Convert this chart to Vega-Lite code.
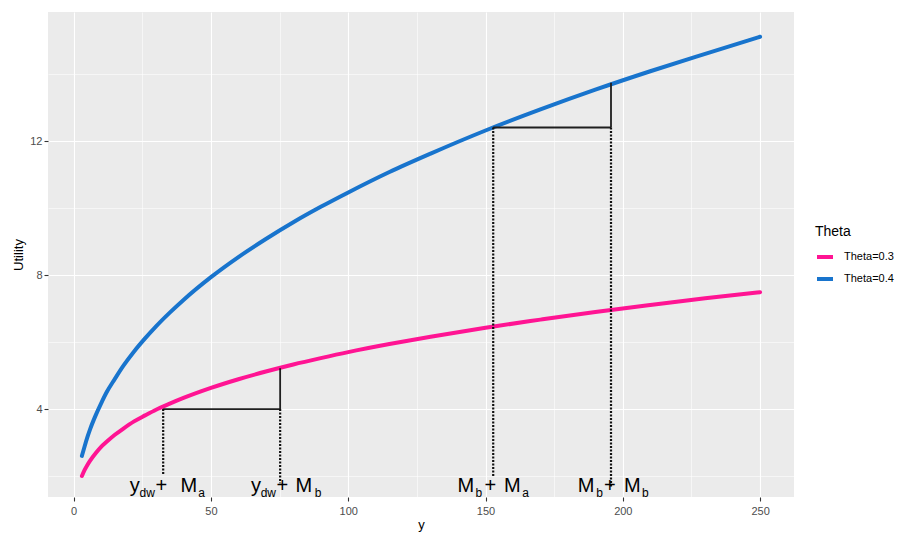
{
  "$schema": "https://vega.github.io/schema/vega-lite/v6.json",
  "autosize": {"type": "none"},
  "padding": {"left": 48, "top": 12, "right": 103, "bottom": 37},
  "width": 746,
  "height": 485,
  "config": {
    "view": {"fill": "#EBEBEB", "stroke": null},
    "font": "Liberation Sans"
  },
  "datasets": {
    "curves": [
      {"y": 3, "utility": 2.00, "theta": "Theta=0.3"},
      {"y": 4, "utility": 2.18, "theta": "Theta=0.3"},
      {"y": 5, "utility": 2.33, "theta": "Theta=0.3"},
      {"y": 6, "utility": 2.46, "theta": "Theta=0.3"},
      {"y": 8, "utility": 2.68, "theta": "Theta=0.3"},
      {"y": 10, "utility": 2.87, "theta": "Theta=0.3"},
      {"y": 12, "utility": 3.02, "theta": "Theta=0.3"},
      {"y": 15, "utility": 3.23, "theta": "Theta=0.3"},
      {"y": 18, "utility": 3.41, "theta": "Theta=0.3"},
      {"y": 22, "utility": 3.63, "theta": "Theta=0.3"},
      {"y": 26, "utility": 3.81, "theta": "Theta=0.3"},
      {"y": 30, "utility": 3.98, "theta": "Theta=0.3"},
      {"y": 35, "utility": 4.16, "theta": "Theta=0.3"},
      {"y": 40, "utility": 4.33, "theta": "Theta=0.3"},
      {"y": 50, "utility": 4.63, "theta": "Theta=0.3"},
      {"y": 60, "utility": 4.89, "theta": "Theta=0.3"},
      {"y": 70, "utility": 5.12, "theta": "Theta=0.3"},
      {"y": 80, "utility": 5.33, "theta": "Theta=0.3"},
      {"y": 90, "utility": 5.52, "theta": "Theta=0.3"},
      {"y": 100, "utility": 5.70, "theta": "Theta=0.3"},
      {"y": 115, "utility": 5.94, "theta": "Theta=0.3"},
      {"y": 130, "utility": 6.16, "theta": "Theta=0.3"},
      {"y": 150, "utility": 6.43, "theta": "Theta=0.3"},
      {"y": 170, "utility": 6.67, "theta": "Theta=0.3"},
      {"y": 190, "utility": 6.90, "theta": "Theta=0.3"},
      {"y": 210, "utility": 7.11, "theta": "Theta=0.3"},
      {"y": 230, "utility": 7.31, "theta": "Theta=0.3"},
      {"y": 250, "utility": 7.49, "theta": "Theta=0.3"},
      {"y": 3, "utility": 2.60, "theta": "Theta=0.4"},
      {"y": 4, "utility": 2.89, "theta": "Theta=0.4"},
      {"y": 5, "utility": 3.16, "theta": "Theta=0.4"},
      {"y": 6, "utility": 3.40, "theta": "Theta=0.4"},
      {"y": 8, "utility": 3.81, "theta": "Theta=0.4"},
      {"y": 10, "utility": 4.17, "theta": "Theta=0.4"},
      {"y": 12, "utility": 4.50, "theta": "Theta=0.4"},
      {"y": 15, "utility": 4.90, "theta": "Theta=0.4"},
      {"y": 18, "utility": 5.28, "theta": "Theta=0.4"},
      {"y": 22, "utility": 5.72, "theta": "Theta=0.4"},
      {"y": 26, "utility": 6.11, "theta": "Theta=0.4"},
      {"y": 30, "utility": 6.47, "theta": "Theta=0.4"},
      {"y": 35, "utility": 6.88, "theta": "Theta=0.4"},
      {"y": 40, "utility": 7.26, "theta": "Theta=0.4"},
      {"y": 50, "utility": 7.94, "theta": "Theta=0.4"},
      {"y": 60, "utility": 8.54, "theta": "Theta=0.4"},
      {"y": 70, "utility": 9.08, "theta": "Theta=0.4"},
      {"y": 80, "utility": 9.58, "theta": "Theta=0.4"},
      {"y": 90, "utility": 10.04, "theta": "Theta=0.4"},
      {"y": 100, "utility": 10.47, "theta": "Theta=0.4"},
      {"y": 115, "utility": 11.08, "theta": "Theta=0.4"},
      {"y": 130, "utility": 11.63, "theta": "Theta=0.4"},
      {"y": 150, "utility": 12.32, "theta": "Theta=0.4"},
      {"y": 170, "utility": 12.95, "theta": "Theta=0.4"},
      {"y": 190, "utility": 13.54, "theta": "Theta=0.4"},
      {"y": 210, "utility": 14.09, "theta": "Theta=0.4"},
      {"y": 230, "utility": 14.61, "theta": "Theta=0.4"},
      {"y": 250, "utility": 15.12, "theta": "Theta=0.4"}
    ],
    "segments": [
      {"x": 32.6, "x2": 75.2, "u": 4.0, "u2": 4.0},
      {"x": 75.2, "x2": 75.2, "u": 4.0, "u2": 5.22},
      {"x": 152.8, "x2": 195.7, "u": 12.41, "u2": 12.41},
      {"x": 195.7, "x2": 195.7, "u": 12.41, "u2": 13.75}
    ],
    "dotted": [
      {"x": 32.6, "u": 4.0, "u2": 2.06},
      {"x": 75.2, "u": 4.0, "u2": 1.78},
      {"x": 152.8, "u": 12.41, "u2": 1.97},
      {"x": 195.7, "u": 12.41, "u2": 1.68}
    ],
    "labels": [
      {"x": 22.2, "u": 1.513, "text": "y", "part": "main"},
      {"x": 26.8, "u": 1.382, "text": "dw", "part": "sub"},
      {"x": 31.9, "u": 1.513, "text": "+", "part": "main"},
      {"x": 41.9, "u": 1.513, "text": "M", "part": "main"},
      {"x": 46.6, "u": 1.382, "text": "a", "part": "sub"},
      {"x": 66.4, "u": 1.513, "text": "y", "part": "main"},
      {"x": 70.9, "u": 1.382, "text": "dw", "part": "sub"},
      {"x": 76.0, "u": 1.513, "text": "+", "part": "main"},
      {"x": 83.8, "u": 1.513, "text": "M", "part": "main"},
      {"x": 89.0, "u": 1.382, "text": "b", "part": "sub"},
      {"x": 142.8, "u": 1.513, "text": "M", "part": "main"},
      {"x": 147.6, "u": 1.382, "text": "b", "part": "sub"},
      {"x": 151.8, "u": 1.513, "text": "+", "part": "main"},
      {"x": 159.8, "u": 1.513, "text": "M", "part": "main"},
      {"x": 164.6, "u": 1.382, "text": "a", "part": "sub"},
      {"x": 186.6, "u": 1.513, "text": "M", "part": "main"},
      {"x": 191.5, "u": 1.382, "text": "b", "part": "sub"},
      {"x": 195.3, "u": 1.513, "text": "+", "part": "main"},
      {"x": 203.5, "u": 1.513, "text": "M", "part": "main"},
      {"x": 208.2, "u": 1.382, "text": "b", "part": "sub"}
    ]
  },
  "resolve": {"axis": {"x": "independent", "y": "independent"}},
  "layer": [
    {
      "data": {"name": "segments"},
      "mark": {"type": "rule", "opacity": 0},
      "encoding": {
        "x": {"field": "x", "type": "quantitative",
          "scale": {"domain": [-9.35, 262.35], "nice": false, "zero": false},
          "axis": {"orient": "bottom", "values": [25, 75, 125, 175, 225], "grid": true, "gridColor": "white", "gridWidth": 0.55, "labels": false, "ticks": false, "domain": false, "title": null}},
        "y": {"field": "u", "type": "quantitative",
          "scale": {"domain": [1.372, 15.86], "nice": false, "zero": false},
          "axis": {"orient": "left", "values": [2, 6, 10, 14], "grid": true, "gridColor": "white", "gridWidth": 0.55, "labels": false, "ticks": false, "domain": false, "title": null}}
      }
    },
    {
      "data": {"name": "curves"},
      "mark": {"type": "line", "strokeWidth": 4, "strokeCap": "round", "interpolate": "monotone"},
      "encoding": {
        "x": {"field": "y", "type": "quantitative",
          "axis": {"orient": "bottom", "values": [0, 50, 100, 150, 200, 250], "grid": true, "gridColor": "white", "gridWidth": 1.1, "domain": false, "tickColor": "#333333", "tickSize": 4, "tickWidth": 1.1, "labelColor": "#4D4D4D", "labelFontSize": 11, "labelPadding": 4.5, "labelFlush": false, "title": "y", "titleFontSize": 13, "titleFontWeight": "normal", "titleColor": "black", "titlePadding": 2}},
        "y": {"field": "utility", "type": "quantitative",
          "axis": {"orient": "left", "values": [4, 8, 12], "grid": true, "gridColor": "white", "gridWidth": 1.1, "domain": false, "tickColor": "#333333", "tickSize": 4, "tickWidth": 1.1, "labelColor": "#4D4D4D", "labelFontSize": 11, "labelPadding": 2, "title": "Utility", "titleFontSize": 13, "titleFontWeight": "normal", "titleColor": "black", "titlePadding": 4}},
        "color": {"field": "theta", "type": "nominal",
          "scale": {"domain": ["Theta=0.3", "Theta=0.4"], "range": ["#FF1493", "#1874CD"]},
          "legend": {"title": "Theta", "orient": "none", "legendX": 767, "legendY": 213, "padding": 0,
            "titleFontSize": 14, "titleFontWeight": "normal", "titleColor": "black", "titlePadding": 8,
            "labelFontSize": 11, "labelColor": "black", "labelOffset": 9,
            "symbolType": "stroke", "symbolStrokeWidth": 4, "symbolSize": 256, "rowPadding": 4}}
      }
    },
    {
      "data": {"name": "segments"},
      "mark": {"type": "rule", "color": "#1F1F1F", "strokeWidth": 1.8},
      "encoding": {
        "x": {"field": "x", "type": "quantitative", "axis": null},
        "x2": {"field": "x2"},
        "y": {"field": "u", "type": "quantitative", "axis": null},
        "y2": {"field": "u2"}
      }
    },
    {
      "data": {"name": "dotted"},
      "mark": {"type": "rule", "color": "#111111", "strokeWidth": 2.2, "strokeDash": [2, 1.5]},
      "encoding": {
        "x": {"field": "x", "type": "quantitative", "axis": null},
        "y": {"field": "u", "type": "quantitative", "axis": null},
        "y2": {"field": "u2"}
      }
    },
    {
      "data": {"name": "labels"},
      "transform": [{"filter": "datum.part === 'main'"}],
      "mark": {"type": "text", "align": "center", "baseline": "alphabetic", "fontSize": 20, "color": "black"},
      "encoding": {
        "x": {"field": "x", "type": "quantitative", "axis": null},
        "y": {"field": "u", "type": "quantitative", "axis": null},
        "text": {"field": "text"}
      }
    },
    {
      "data": {"name": "labels"},
      "transform": [{"filter": "datum.part === 'sub'"}],
      "mark": {"type": "text", "align": "center", "baseline": "alphabetic", "fontSize": 12, "color": "black"},
      "encoding": {
        "x": {"field": "x", "type": "quantitative", "axis": null},
        "y": {"field": "u", "type": "quantitative", "axis": null},
        "text": {"field": "text"}
      }
    }
  ]
}
